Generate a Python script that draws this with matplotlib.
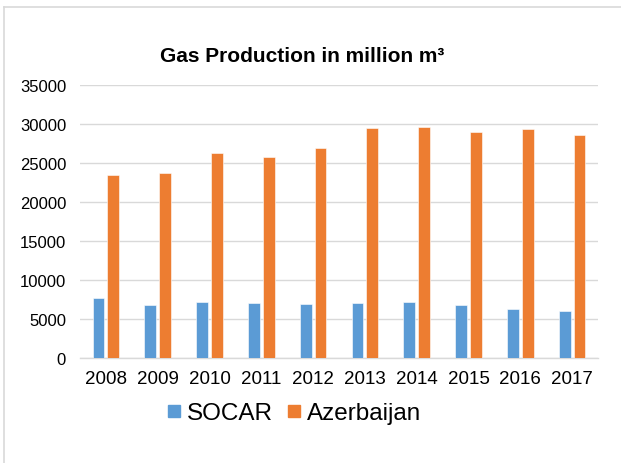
import numpy as np
import matplotlib.pyplot as plt
from matplotlib.lines import Line2D

plt.rcParams['font.family'] = ['Liberation Sans', 'DejaVu Sans']

years = ['2008', '2009', '2010', '2011', '2012', '2013', '2014', '2015', '2016', '2017']
socar = [7690, 6840, 7140, 7050, 6920, 7090, 7180, 6790, 6240, 6030]
azerbaijan = [23400, 23680, 26280, 25770, 26920, 29450, 29620, 28930, 29360, 28590]

blue = '#5B9BD5'
orange = '#ED7D31'

fig = plt.figure(figsize=(6.21, 4.64), dpi=100)
ax = fig.add_axes([0.1288, 0.2263, 0.963 - 0.1288, 0.8147 - 0.2263])

x = np.arange(len(years))
w = 0.225
ax.bar(x - 0.143, socar, w, color=blue, edgecolor='white', linewidth=0.4, zorder=3)
ax.bar(x + 0.143, azerbaijan, w, color=orange, edgecolor='white', linewidth=0.4, zorder=3)

ax.set_xlim(-0.5, len(years) - 0.5)
ax.set_ylim(0, 35000)
ax.set_yticks(np.arange(0, 35001, 5000))
ax.set_xticks(x)
ax.set_xticklabels(years, fontsize=13.5)
ax.tick_params(axis='y', labelsize=12, length=0, pad=10)
ax.tick_params(axis='x', length=0, pad=9)
ax.grid(axis='y', color='#D9D9D9', linewidth=1.0, zorder=0)
for s in ['top', 'right', 'left']:
    ax.spines[s].set_visible(False)
ax.spines['bottom'].set_color('#D9D9D9')
ax.spines['bottom'].set_linewidth(1.0)

fig.text(302 / 621, 1 - 57 / 464, 'Gas Production in million m³', ha='center', va='center',
         fontsize=15, fontweight='bold')

handles = [Line2D([], [], marker='s', color='none', markerfacecolor=c, markeredgecolor=c, markersize=9)
           for c in (blue, orange)]
fig.legend(handles, ['SOCAR', 'Azerbaijan'], loc='center', bbox_to_anchor=(294 / 621, 1 - 414 / 464),
           ncol=2, frameon=False, fontsize=17.5, handlelength=0.6, handletextpad=0.2, columnspacing=0.6)

# chart border
fig.add_artist(Line2D([4 / 621, 4 / 621], [0, 1 - 8 / 464], color='#D9D9D9', linewidth=1.2))
fig.add_artist(Line2D([4 / 621, 1], [1 - 8 / 464, 1 - 8 / 464], color='#D9D9D9', linewidth=1.2))

fig.savefig('out.png', dpi=100)
